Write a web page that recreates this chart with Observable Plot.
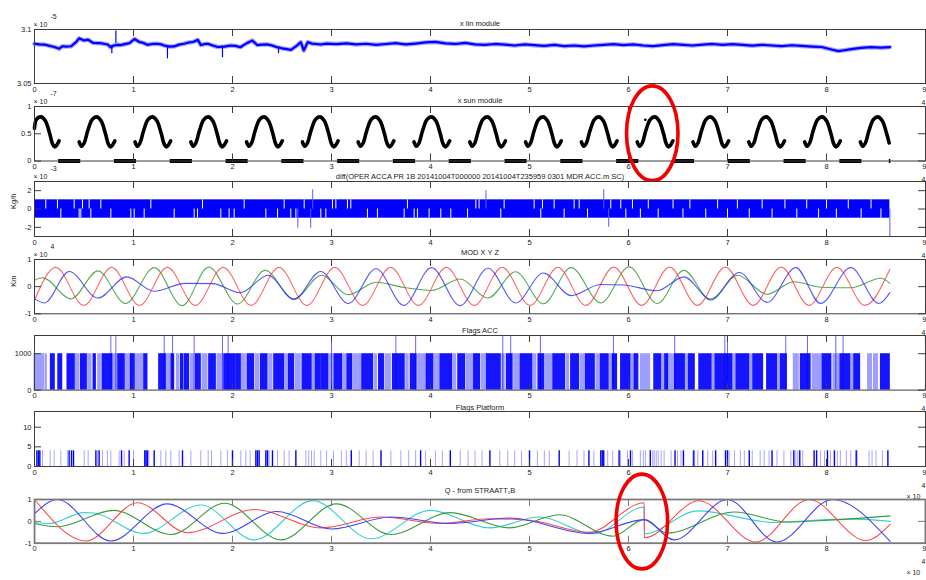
<!DOCTYPE html>
<html>
<head>
<meta charset="utf-8">
<script src="https://cdn.jsdelivr.net/npm/d3@7"></script>
<script src="https://cdn.jsdelivr.net/npm/@observablehq/plot@0.6"></script>
<style>
  body { margin: 0; background: #fff; }
  #fig { position: relative; width: 926px; height: 580px; overflow: hidden; background: #fff; }
  #fig svg { position: absolute; left: 0; }
</style>
</head>
<body>
<div id="fig"></div>
<script>
// ---------- shared axis ticks (time, x 10^4 s) ----------
const xTicks = [0, 1, 2, 3, 4, 5, 6, 7, 8, 9];

// ---------- x lin module (x 10^-5) ----------
const linX = [0.00,0.05,0.10,0.15,0.20,0.25,0.28,0.32,0.37,0.42,0.45,0.50,0.54,0.59,0.63,0.67,0.71,0.74,0.77,0.80,0.84,0.87,0.91,0.96,1.01,1.06,1.10,1.14,1.19,1.24,1.28,1.31,1.36,1.41,1.46,1.51,1.56,1.60,1.65,1.68,1.72,1.75,1.80,1.85,1.92,1.98,2.03,2.08,2.12,2.15,2.20,2.25,2.30,2.35,2.40,2.45,2.50,2.55,2.59,2.64,2.69,2.72,2.76,2.80,2.85,2.89,
  2.95,3.05,3.15,3.25,3.35,3.45,3.55,3.65,3.75,3.85,3.95,4.05,4.15,4.25,4.35,4.45,4.55,4.65,4.75,4.85,4.95,5.05,5.15,5.25,5.35,5.45,5.55,5.65,5.75,5.85,5.95,6.05,6.15,6.25,6.35,6.45,6.55,6.65,6.75,6.85,6.95,7.05,7.15,7.25,7.35,7.45,7.55,7.65,7.75,7.85,7.95,8.05,8.12,8.18,8.25,8.35,8.45,8.55,8.64];
const linV = [3.0868,3.0862,3.0860,3.0850,3.0838,3.0822,3.0845,3.0842,3.0845,3.0883,3.0918,3.0898,3.0906,3.0877,3.0874,3.0873,3.0866,3.0861,3.0836,3.0852,3.0858,3.0856,3.0864,3.0874,3.0912,3.0884,3.0876,3.0858,3.0866,3.0868,3.0862,3.0852,3.0842,3.0843,3.0860,3.0868,3.0880,3.0884,3.0904,3.0856,3.0866,3.0868,3.0852,3.0838,3.0842,3.0852,3.0848,3.0836,3.0860,3.0876,3.0898,3.0856,3.0860,3.0862,3.0852,3.0836,3.0826,3.0818,3.0812,3.0843,3.0883,3.0806,3.0883,3.0870,3.0866,3.0861,
  3.0870,3.0865,3.0872,3.0862,3.0868,3.0858,3.0866,3.0874,3.0862,3.0870,3.0880,3.0885,3.0872,3.0866,3.0876,3.0862,3.0858,3.0866,3.0860,3.0852,3.0862,3.0855,3.0848,3.0858,3.0846,3.0852,3.0844,3.0852,3.0858,3.0864,3.0856,3.0862,3.0852,3.0846,3.0856,3.0864,3.0858,3.0852,3.0860,3.0866,3.0858,3.0864,3.0858,3.0850,3.0858,3.0852,3.0846,3.0854,3.0848,3.0842,3.0838,3.0815,3.0800,3.0808,3.0818,3.0830,3.0836,3.0832,3.0836];
const linSpikeX = [0.781, 0.822, 1.343, 1.899, 2.465];
const linSpikeFrom = [3.085, 3.087, 3.085, 3.085, 3.084];
const linSpikeTo = [3.0775, 3.0985, 3.0728, 3.0738, 3.0775];

// ---------- x sun module (x 10^-7) ----------
const sunPeaks = [0.064, 0.627, 1.191, 1.755, 2.318, 2.882, 3.445, 4.009, 4.573, 5.136, 5.700, 6.264, 6.827, 7.391, 7.955, 8.518];
const sunArcDx = [-0.176, -0.152, -0.125, -0.09, -0.045, 0, 0.045, 0.09, 0.115, 0.137, 0.16, 0.185];
const sunArcV  = [0.35, 0.27, 0.33, 0.55, 0.76, 0.81, 0.74, 0.50, 0.33, 0.26, 0.29, 0.37];
const sunStart = [0, 0.6];
const sunEnd = 8.64;
const sunStray = [6.17, 0.755];

// ---------- diff(...) (x 10^-3 Kg/h) ----------
const diffSpan = [0, 8.64];
const diffLevel = [-1, 1];
const diffUpperGaps = [0.114,0.232,0.401,0.485,0.552,0.670,1.175,1.697,2.118,2.522,2.724,3.010,3.044,3.161,3.195,3.767,4.458,4.491,4.744,5.047,5.131,5.249,5.451,5.502,5.821,5.922,6.040,6.2,6.45,6.62,6.9,7.1,7.35,7.58,7.8,8.0,8.22,8.45];
const diffLowerGaps = [0.266,0.451,0.468,0.569,0.771,0.973,1.007,1.108,1.411,1.613,1.646,1.882,1.966,2.017,2.337,2.455,2.589,2.640,2.892,2.943,3.363,3.464,3.734,3.835,3.868,3.986,4.104,4.205,4.374,4.710,5.114,5.350,5.586,5.973,6.12,6.3,6.55,6.78,7.0,7.22,7.45,7.7,7.92,8.1,8.35,8.55];
const diffSpikeX  = [2.66, 2.79, 2.81, 4.56, 5.75, 5.80, 8.64];
const diffSpikeTo = [-2.1, -2.1, 2.1, 2.0, 2.1, -2.0, -3.0];

// ---------- MOD X Y Z (x 10^4 Km) ----------
const modRedX = [0,0.215,0.497,0.779,1.060,1.342,1.624,1.906,2.188,2.469,2.751,3.033,3.315,3.597,3.878,4.160,4.442,4.724,5.006,5.287,5.569,5.851,6.133,6.415,6.696,6.978,7.260,7.542,7.823,8.105,8.387,8.64];
const modRedY = [-0.50,0.71,-0.69,0.71,-0.69,0.71,-0.69,0.71,-0.69,0.71,-0.69,0.71,-0.69,0.71,-0.69,0.71,-0.69,0.71,-0.69,0.71,-0.69,0.72,-0.69,0.72,-0.69,0.72,-0.69,0.72,-0.69,0.71,-0.69,0.64];
const modBlueX = [0,0.10,0.35,0.64,0.93,1.21,1.52,1.80,2.08,2.36,2.62,2.89,3.17,3.45,3.73,4.01,4.30,4.58,4.86,5.14,5.42,5.72,5.95,6.29,6.56,6.83,7.12,7.40,7.69,7.94,8.245,8.53,8.64];
const modBlueY = [-0.45,-0.60,0.56,-0.42,0.36,-0.17,0.12,0.11,-0.22,0.42,-0.47,0.56,-0.62,0.66,-0.69,0.70,-0.70,0.68,-0.60,0.50,-0.33,0.08,0.06,-0.15,0.36,-0.46,0.52,-0.58,0.70,-0.62,0.70,-0.62,-0.22];
const modGreenX = [0,0.08,0.37,0.64,0.92,1.21,1.49,1.76,2.05,2.33,2.62,2.90,3.17,3.45,3.73,4.01,4.30,4.58,4.86,5.14,5.42,5.72,6.006,6.29,6.56,6.83,7.10,7.40,7.67,7.95,8.245,8.55,8.64];
const modGreenY = [0.24,0.33,-0.45,0.58,-0.62,0.70,-0.70,0.72,-0.64,0.60,-0.46,0.42,-0.30,0.16,-0.03,-0.14,0.28,-0.42,0.55,-0.63,0.70,-0.60,0.73,-0.62,0.60,-0.50,0.42,-0.28,0.18,-0.02,-0.04,0.31,0.12];

// ---------- Flags ACC ----------
const accRuns = [
  [0.0,0.10,"l"],[0.115,0.125,"l"],[0.165,0.205,"d"],[0.24,0.28,"d"],[0.333,0.407,"d"],[0.418,0.451,"l"],[0.468,0.529,"d"],[0.542,0.576,"l"],[0.596,0.62,"d"],[0.643,0.67,"l"],[0.687,0.788,"d"],[0.798,0.832,"l"],[0.845,0.912,"d"],[0.923,0.973,"l"],[0.973,1.013,"d"],[1.024,1.10,"l"],[1.108,1.141,"d"],
  [1.259,1.327,"d"],[1.337,1.377,"l"],[1.384,1.411,"d"],[1.438,1.461,"l"],[1.478,1.505,"d"],[1.519,1.562,"d"],[1.579,1.613,"l"],[1.630,1.680,"d"],[1.697,1.747,"l"],[1.764,1.832,"d"],[1.848,1.899,"l"],[1.916,2.034,"d"],[2.044,2.084,"d"],[2.091,2.135,"l"],[2.152,2.219,"d"],[2.236,2.269,"l"],[2.286,2.354,"d"],[2.370,2.404,"l"],[2.421,2.52,"d"],[2.53,2.56,"l"],[2.57,2.623,"d"],[2.64,2.69,"l"],[2.707,2.80,"d"],[2.81,2.83,"l"],[2.84,2.892,"d"],
  [2.90,2.97,"d"],[2.985,3.02,"l"],[3.03,3.11,"d"],[3.125,3.15,"l"],[3.16,3.21,"d"],[3.225,3.30,"l"],[3.31,3.42,"d"],[3.435,3.46,"l"],[3.48,3.53,"d"],[3.545,3.60,"l"],[3.62,3.74,"d"],[3.755,3.78,"l"],[3.80,3.86,"d"],[3.875,3.95,"l"],[3.96,4.03,"d"],[4.045,4.09,"l"],[4.10,4.22,"d"],[4.235,4.26,"l"],[4.28,4.35,"d"],[4.365,4.43,"l"],[4.44,4.50,"d"],[4.515,4.56,"l"],[4.57,4.71,"d"],[4.725,4.75,"l"],[4.77,4.83,"d"],[4.845,4.90,"l"],[4.91,5.03,"d"],[5.045,5.07,"l"],[5.09,5.15,"d"],[5.165,5.23,"l"],[5.24,5.36,"d"],[5.375,5.40,"l"],[5.42,5.50,"d"],[5.515,5.56,"l"],[5.57,5.66,"d"],[5.675,5.71,"l"],
  [5.72,5.80,"d"],[5.81,5.83,"l"],[5.84,5.885,"d"],[5.925,6.02,"d"],[6.03,6.05,"l"],[6.06,6.10,"d"],[6.125,6.22,"l"],[6.26,6.33,"d"],[6.34,6.36,"l"],[6.37,6.40,"d"],[6.40,6.46,"l"],[6.47,6.57,"d"],[6.58,6.60,"l"],[6.61,6.67,"d"],[6.715,6.84,"d"],[6.85,6.88,"l"],[6.88,7.05,"d"],[7.06,7.08,"l"],[7.09,7.22,"d"],[7.23,7.25,"l"],[7.26,7.36,"d"],[7.40,7.50,"d"],[7.51,7.53,"l"],[7.54,7.60,"d"],[7.67,7.72,"l"],[7.74,7.84,"d"],[7.86,7.95,"l"],[7.96,8.05,"d"],[8.07,8.13,"l"],[8.14,8.24,"d"],[8.25,8.27,"l"],[8.28,8.34,"d"],[8.42,8.46,"l"],[8.48,8.52,"l"],[8.55,8.64,"d"]
];
const accTall = [0.771,0.822,1.310,1.394,1.613,1.899,1.956,3.0,3.65,3.85,4.73,4.81,5.11,5.848,6.467,6.973,7.0,7.589,7.808,8.094,8.168];

// ---------- Flags Platform ----------
const platDark = [0.024,0.04,0.054,0.35,0.374,0.394,0.62,0.653,0.879,0.956,1.114,1.127,1.141,1.209,1.495,2.0,2.236,2.252,2.269,2.337,2.354,2.404,2.64,3.2,3.5,3.9,4.2,4.6,5.0,5.3,5.6,5.72,5.735,5.75,5.905,6.02,6.22,6.47,6.555,6.66,6.75,6.88,6.98,7.0,7.22,7.45,7.67,7.73,7.875,7.90,8.01,8.08,8.30,8.62];
const platLight = [0.081,0.158,0.199,0.266,0.333,0.502,0.542,0.636,0.687,0.737,0.771,0.855,0.906,1.0,1.155,1.276,1.327,1.377,1.461,1.579,1.680,1.754,1.788,1.882,1.949,2.084,2.135,2.178,2.370,2.455,2.522,2.572,2.741,2.77,2.798,2.825,2.892,
  2.95,3.02,3.1,3.15,3.28,3.35,3.42,3.6,3.7,3.78,3.85,3.95,4.05,4.12,4.3,4.38,4.45,4.52,4.7,4.78,4.85,4.92,5.08,5.15,5.2,5.4,5.48,5.55,5.65,
  5.79,5.84,5.92,5.99,6.04,6.12,6.15,6.17,6.245,6.26,6.28,6.30,6.33,6.36,6.43,6.495,6.53,6.65,6.70,6.80,6.85,7.017,7.07,7.13,7.17,7.25,7.33,7.37,7.42,7.50,7.57,7.64,7.69,7.71,7.76,7.94,7.98,8.04,8.11,8.14,8.20,8.245,8.31,8.43,8.46,8.50,8.565];
const platLevel = 4;

// ---------- Q - from STRAATT_1B ----------
const qRedX = [0,0.52,1.04,1.545,2.22,2.90,3.50,4.10,4.60,5.00,5.60,6.158,6.161,6.713,7.286,7.824,8.397,8.643];
const qRedY = [1.0,-0.9,0.85,-0.52,0.54,-0.30,0.20,-0.10,0.12,0.05,-0.50,0.85,-0.75,0.94,-0.95,1.0,-0.88,-0.14];
const qBlueX = [0,0.23,0.77,1.34,1.90,2.45,3.00,3.60,4.20,4.80,5.60,6.158,6.46,7.0,7.5,8.06,8.643];
const qBlueY = [0.35,1.0,-0.9,0.8,-0.55,0.45,-0.35,0.20,-0.10,0.15,-0.55,0.08,-0.85,1.0,-0.95,1.0,-0.92];
const qCyanX = [0,0.15,0.50,0.60,1.10,1.68,2.22,2.81,3.40,4.00,4.60,5.10,5.65,6.158,6.161,6.70,7.47,7.87,8.28,8.643];
const qCyanY = [-0.05,-0.1,0.4,0.38,-0.55,0.75,-0.85,0.95,-0.8,0.5,-0.3,0.2,-0.57,0.66,-0.57,0.48,-0.05,0.05,0.1,0.0];
const qGreenX = [0,0.23,0.80,1.38,1.92,2.49,3.05,3.60,4.20,4.80,5.30,5.84,6.158,6.39,7.07,7.605,8.01,8.643];
const qGreenY = [-0.1,-0.25,0.5,-0.6,0.83,-0.85,0.8,-0.6,0.4,-0.3,0.3,-0.68,0.08,-0.54,0.43,-0.03,0.05,0.25];

// ---------- highlighted events ----------
const ringSun = {cx: 6.245, cy: 0.5, rx: 0.26, ry: 0.87};
const ringQuat = {cx: 6.14, cy: -0.03, rx: 0.26, ry: 2.17};

// ---------------------------------------------------------------
const fig = document.getElementById("fig");
const FONT = "'Liberation Sans', Arial, Helvetica, sans-serif";
const BLUE = "#0000ff";

// a red ring drawn in data coordinates of the panel it belongs to
function ring(r) {
  return (index, scales) => {
    const cx = scales.x(r.cx), cy = scales.y(r.cy);
    const el = d3.create("svg:ellipse")
      .attr("cx", cx).attr("cy", cy)
      .attr("rx", Math.abs(scales.x(r.cx + r.rx) - cx))
      .attr("ry", Math.abs(scales.y(r.cy + r.ry) - cy))
      .attr("fill", "none").attr("stroke", "#f00000").attr("stroke-width", 3.6);
    return el.node();
  };
}

function panel({top, h, yDomain, yTicks, yTickText, title, titleDy = -9, yExp, yLabel, frameStroke = "#3c3c3c", frameWidth = 1, marks, overlay = []}) {
  const mt = 24, mb = 40, ml = 34, mr = 1;
  const boxW = 926 - ml - mr;
  const last = xTicks[xTicks.length - 1];
  const extras = [];
  if (yExp) extras.push(
    Plot.text(["× 10"], {text: d => d, frameAnchor: "top-left", dx: -1, dy: -7, textAnchor: "start", fontSize: 7}),
    Plot.text([yExp], {text: d => d, frameAnchor: "top-left", dx: 16, dy: -15, textAnchor: "start", fontSize: 7})
  );
  if (yLabel) extras.push(Plot.text([yLabel], {text: d => d, frameAnchor: "left", dx: -21, rotate: -90}));
  const svg = Plot.plot({
    width: 926, height: h + mt + mb,
    marginTop: mt, marginBottom: mb, marginLeft: ml, marginRight: mr,
    x: {domain: [0, 9], axis: null},
    y: {domain: yDomain, axis: null},
    style: {background: "transparent", overflow: "visible", fontFamily: FONT, fontSize: "7.5px", color: "#222"},
    marks: [
      Plot.frame({fill: "white", stroke: "none"}),
      ...marks,
      Plot.ruleX(xTicks, {x: d => d, insetTop: h - 7, stroke: frameStroke}),
      Plot.ruleX(xTicks, {x: d => d, insetBottom: h - 7, stroke: frameStroke}),
      Plot.ruleY(yTicks, {y: d => d, insetRight: boxW - 7, stroke: frameStroke}),
      Plot.ruleY(yTicks, {y: d => d, insetLeft: boxW - 7, stroke: frameStroke}),
      Plot.frame({stroke: frameStroke, strokeWidth: frameWidth}),
      Plot.text(xTicks.filter(d => d !== last), {x: d => d, text: d => String(d), frameAnchor: "bottom", dy: 8}),
      Plot.text([last], {x: d => d, text: d => String(d), frameAnchor: "bottom", dy: 8, textAnchor: "end", dx: 1}),
      Plot.text(yTicks, {y: d => d, text: (d, i) => yTickText[i], frameAnchor: "left", dx: -3, textAnchor: "end"}),
      Plot.text([title], {text: d => d, frameAnchor: "top", dy: titleDy}),
      Plot.text(["× 10"], {text: d => d, frameAnchor: "bottom-right", dx: -19, dy: 32, textAnchor: "start", fontSize: 7}),
      Plot.text(["4"], {text: d => d, frameAnchor: "bottom-right", dx: -4, dy: 21, textAnchor: "start", fontSize: 7}),
      ...extras,
      ...overlay
    ]
  });
  svg.style.top = (top - mt) + "px";
  fig.appendChild(svg);
}

// 1. x lin module: a soft halo under the trace stands for the sample noise
panel({
  top: 29, h: 54, yDomain: [3.05, 3.1], yTicks: [3.05, 3.1], yTickText: ["3.05", "3.1"],
  title: "x lin module", yExp: "-5",
  marks: [
    Plot.line(linV, {x: linX, y: linV, stroke: BLUE, strokeWidth: 4.5, strokeOpacity: 0.35}),
    Plot.line(linV, {x: linX, y: linV, stroke: BLUE, strokeWidth: 2.2}),
    Plot.ruleX(linSpikeX, {x: linSpikeX, y1: linSpikeFrom, y2: linSpikeTo, stroke: BLUE, strokeWidth: 1.2})
  ]
});

// 2. x sun module: sunlit arcs, eclipse stretches at zero
const sunArcs = [];
sunPeaks.forEach((p, k) => {
  if (k === 0) sunArcs.push({x: sunStart[0], y: sunStart[1], k});
  sunArcDx.forEach((dx, j) => {
    const x = p + dx;
    if (x > sunStart[0] && x <= sunEnd) sunArcs.push({x, y: sunArcV[j], k});
  });
});
const sunEclipse = sunPeaks.slice(0, -1).map((p, i) => ({x1: p + 0.18, x2: sunPeaks[i + 1] - 0.16}));
sunEclipse.push({x1: sunEnd - 0.005, x2: sunEnd + 0.01});
panel({
  top: 105.5, h: 54.5, yDomain: [0, 1], yTicks: [0, 0.5, 1], yTickText: ["0", "0.5", "1"],
  title: "x sun module", yExp: "-7",
  marks: [
    Plot.line(sunArcs, {x: "x", y: "y", z: "k", stroke: "#000", strokeWidth: 3.6, curve: "catmull-rom"}),
    Plot.ruleY(sunEclipse, {x1: "x1", x2: "x2", y: 0, stroke: "#000", strokeWidth: 4}),
    Plot.dot([sunStray], {x: d => d[0], y: d => d[1], r: 1.4, fill: "#000"})
  ],
  overlay: [ring(ringSun)]
});

// 3. diff of the ACC product
panel({
  top: 181, h: 55, yDomain: [-3, 3], yTicks: [-2, 0, 2], yTickText: ["-2", "0", "2"],
  title: "diff(OPER ACCA PR 1B 20141004T000000 20141004T235959 0301 MDR ACC.m SC)", titleDy: -8,
  yExp: "-3", yLabel: "Kg/h",
  marks: [
    Plot.rect([diffSpan], {x1: d => d[0], x2: d => d[1], y1: diffLevel[0], y2: diffLevel[1], fill: BLUE}),
    Plot.ruleX(diffUpperGaps, {x: d => d, y1: 0, y2: diffLevel[1], stroke: "white", strokeWidth: 1}),
    Plot.ruleX(diffLowerGaps, {x: d => d, y1: diffLevel[0], y2: 0, stroke: "white", strokeWidth: 1}),
    Plot.ruleX(diffSpikeX, {x: diffSpikeX, y1: 0, y2: diffSpikeTo, stroke: "#5a5aff", strokeWidth: 1})
  ]
});

// 4. MOD X Y Z
panel({
  top: 258.7, h: 54.3, yDomain: [-1, 1], yTicks: [-1, 0, 1], yTickText: ["-1", "0", "1"],
  title: "MOD X Y Z", titleDy: -10, yExp: "4", yLabel: "Km",
  marks: [
    Plot.line(modGreenY, {x: modGreenX, y: modGreenY, stroke: "#3a9a3a", strokeWidth: 1.1, strokeOpacity: 0.85, curve: "monotone-x"}),
    Plot.line(modRedY, {x: modRedX, y: modRedY, stroke: "#ff3b3b", strokeWidth: 1.1, strokeOpacity: 0.8, curve: "monotone-x"}),
    Plot.line(modBlueY, {x: modBlueX, y: modBlueY, stroke: "#2a2aff", strokeWidth: 1.1, strokeOpacity: 0.8, curve: "monotone-x"})
  ]
});

// 5. Flags ACC
panel({
  top: 334.7, h: 54.6, yDomain: [0, 1500], yTicks: [0, 1000], yTickText: ["0", "1000"],
  title: "Flags ACC", titleDy: -8,
  marks: [
    Plot.rect(accRuns, {x1: d => d[0], x2: d => d[1], y1: 0, y2: 1000, fill: BLUE, fillOpacity: d => d[2] === "d" ? 0.92 : 0.38, insetLeft: -0.5, insetRight: -0.5}),
    Plot.ruleX(accTall, {x: d => d, y1: 0, y2: 1500, stroke: BLUE, strokeOpacity: 0.6})
  ]
});

// 6. Flags Platform
panel({
  top: 411, h: 55, yDomain: [0, 14], yTicks: [0, 5, 10], yTickText: ["0", "5", "10"],
  title: "Flags Platform", titleDy: -7,
  marks: [
    Plot.ruleX(platLight, {x: d => d, y1: 0, y2: platLevel, stroke: BLUE, strokeOpacity: 0.35, strokeWidth: 1}),
    Plot.ruleX(platDark, {x: d => d, y1: 0, y2: platLevel, stroke: BLUE, strokeWidth: 1.4})
  ]
});

// 7. Quaternion
panel({
  top: 499, h: 43.7, yDomain: [-1, 1], yTicks: [-1, 0, 1], yTickText: ["-1", "0", "1"],
  title: "Q - from STRAATT\u2081B", titleDy: -12, frameStroke: "#7a7a7a", frameWidth: 1.8,
  marks: [
    Plot.line(qCyanY, {x: qCyanX, y: qCyanY, stroke: "#36d0d0", strokeWidth: 1.1, curve: "monotone-x"}),
    Plot.line(qGreenY, {x: qGreenX, y: qGreenY, stroke: "#3a9a3a", strokeWidth: 1.1, curve: "monotone-x"}),
    Plot.line(qRedY, {x: qRedX, y: qRedY, stroke: "#ff4a4a", strokeWidth: 1.1, curve: "monotone-x"}),
    Plot.line(qBlueY, {x: qBlueX, y: qBlueY, stroke: "#4040ff", strokeWidth: 1.1, curve: "monotone-x"})
  ],
  overlay: [ring(ringQuat)]
});
</script>
</body>
</html>
